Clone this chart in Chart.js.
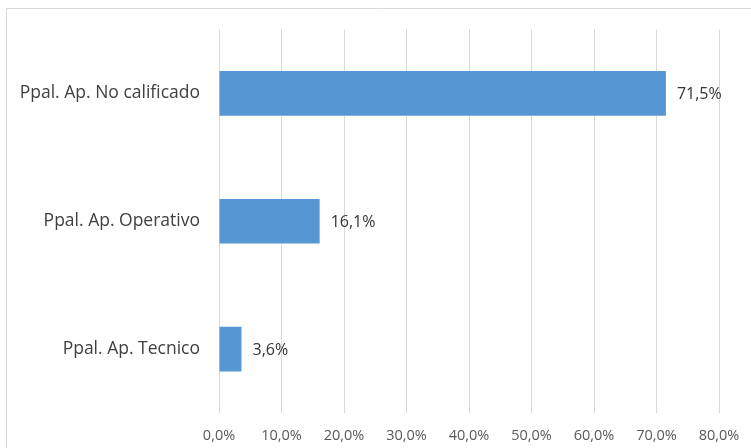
<!DOCTYPE html>
<html>
<head>
<meta charset="utf-8">
<script src="https://cdn.jsdelivr.net/npm/chart.js@4"></script>
<style>
	body { margin: 0; background: #fff; }
	#grafico { display: block; }
</style>
</head>
<body>
<canvas id="grafico" width="751" height="448"></canvas>
<script>
const categorias = ["Ppal. Ap. No calificado", "Ppal. Ap. Operativo", "Ppal. Ap. Tecnico"];
const valores = [71.5, 16.1, 3.6];
const ticksX = [0, 10, 20, 30, 40, 50, 60, 70, 80];

const fonte = "'Open Sans', sans-serif";

function porcento(v) {
	return v.toFixed(1).replace(".", ",") + "%";
}

// moldura cinza clara como no original (só topo e esquerda aparecem)
const moldura = {
	id: "moldura",
	beforeDraw(chart) {
		const ctx = chart.ctx;
		ctx.save();
		ctx.strokeStyle = "#d9d9d9";
		ctx.lineWidth = 1;
		ctx.beginPath();
		ctx.moveTo(6.5, 448);
		ctx.lineTo(6.5, 8.5);
		ctx.lineTo(751, 8.5);
		ctx.stroke();
		ctx.restore();
	},
};

// rótulos de valor ao lado das barras
const rotulos = {
	id: "rotulos",
	afterDatasetsDraw(chart) {
		const ctx = chart.ctx;
		const meta = chart.getDatasetMeta(0);
		ctx.save();
		ctx.fillStyle = "#333333";
		ctx.font = "16px " + fonte;
		ctx.textAlign = "left";
		ctx.textBaseline = "middle";
		meta.data.forEach((barra, i) => {
			ctx.fillText(porcento(valores[i]), barra.x + 11, barra.y + 1);
		});
		ctx.restore();
	},
};

new Chart(document.querySelector("#grafico"), {
	type: "bar",
	data: {
		labels: categorias,
		datasets: [
			{
				data: valores,
				backgroundColor: "#5596d3",
				borderWidth: 0,
				categoryPercentage: 1,
				barPercentage: 0.35,
			},
		],
	},
	options: {
		indexAxis: "y",
		responsive: false,
		animation: false,
		devicePixelRatio: 1,
		layout: {
			padding: { left: 0, right: 32, top: 27, bottom: 0 },
		},
		plugins: {
			legend: { display: false },
			tooltip: { enabled: false },
		},
		scales: {
			x: {
				min: 0,
				max: 80,
				afterBuildTicks(scale) {
					scale.ticks = ticksX.map((v) => ({ value: v }));
				},
				afterFit(scale) {
					scale.height = 35;
					scale.paddingLeft = 0;
					scale.paddingRight = 0;
				},
				grid: { color: "#d9d9d9", drawTicks: false },
				border: { display: false },
				ticks: {
					padding: 14,
					color: "#595959",
					font: { family: fonte, size: 14.5 },
					callback: (v) => porcento(v),
				},
			},
			y: {
				afterFit(scale) {
					scale.width = 219;
				},
				grid: { display: false, drawTicks: false },
				border: { display: false },
				ticks: {
					padding: 19,
					color: "#404040",
					font: { family: fonte, size: 17.5 },
				},
			},
		},
	},
	plugins: [moldura, rotulos],
});
</script>
</body>
</html>
